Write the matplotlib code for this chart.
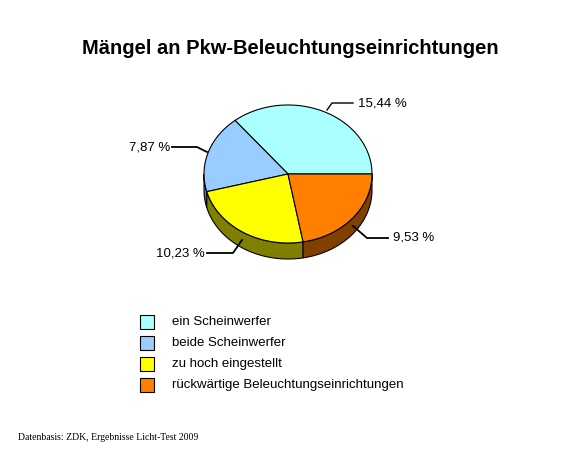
import numpy as np
import matplotlib
matplotlib.use("Agg")
import matplotlib.pyplot as plt
from matplotlib.patches import Polygon, Rectangle

plt.rcParams['font.family'] = ['Liberation Sans', 'DejaVu Sans']

categories = ["ein Scheinwerfer", "beide Scheinwerfer", "zu hoch eingestellt", "rückwärtige Beleuchtungseinrichtungen"]
values = [15.44, 7.87, 10.23, 9.53]
labels = ["15,44 %", "7,87 %", "10,23 %", "9,53 %"]
top_colors = ["#aaffff", "#99ccff", "#ffff00", "#ff8000"]
side_colors = ["#559999", "#5577aa", "#808000", "#804000"]

fig = plt.figure(figsize=(5.83, 4.55), dpi=100)
ax = fig.add_axes([0, 0, 1, 1])
ax.set_xlim(0, 583); ax.set_ylim(455, 0); ax.axis("off")

cx, cy, rx, ry, depth = 288, 174, 84, 69, 16
def pt(a, dz=0):
    r = np.radians(a)
    return cx + rx*np.cos(r), cy - ry*np.sin(r) + dz

total = sum(values)
angles = np.concatenate([[0], np.cumsum(values) / total * 360])
for i in range(len(values)):
    a0, a1 = max(angles[i], 180), min(angles[i+1], 360)
    if a1 <= a0:
        continue
    ts = np.linspace(a0, a1, 60)
    upper = [pt(t) for t in ts]
    lower = [pt(t, depth) for t in ts[::-1]]
    ax.add_patch(Polygon(upper + lower, closed=True, fc=side_colors[i], ec="black", lw=0.8))
for i in range(len(values)):
    ts = np.linspace(angles[i], angles[i+1], 100)
    poly = [(cx, cy)] + [pt(t) for t in ts]
    ax.add_patch(Polygon(poly, closed=True, fc=top_colors[i], ec="black", lw=0.8))

lw = 1.3
fs = 9.5
ax.plot([327, 332, 353], [110, 103, 103], color="black", lw=1)
ax.text(358, 103, labels[0], fontsize=fs, va="center", ha="left")
ax.plot([172, 197, 207], [147, 147, 152], color="black", lw=lw)
ax.text(170, 148, labels[1], fontsize=fs, va="center", ha="right")
ax.plot([207, 233, 242], [253, 253, 240], color="black", lw=lw)
ax.text(205, 254, labels[2], fontsize=fs, va="center", ha="right")
ax.plot([353, 367, 388], [226, 238, 238], color="black", lw=lw)
ax.text(393, 238, labels[3], fontsize=fs, va="center", ha="left")

ax.text(290, 49, "Mängel an Pkw-Beleuchtungseinrichtungen", fontsize=14.5, fontweight="bold",
        ha="center", va="center")

for i, c in enumerate(categories):
    y = 322 + i*21
    ax.add_patch(Rectangle((140, y-7), 14, 14, fc=top_colors[i], ec="black", lw=0.8))
    ax.text(172, y, c, fontsize=fs, va="center", ha="left")

ax.text(18, 437, "Datenbasis: ZDK, Ergebnisse Licht-Test 2009", fontsize=7, va="center",
        ha="left", family="Liberation Serif")
fig.savefig("out.png", dpi=100)
